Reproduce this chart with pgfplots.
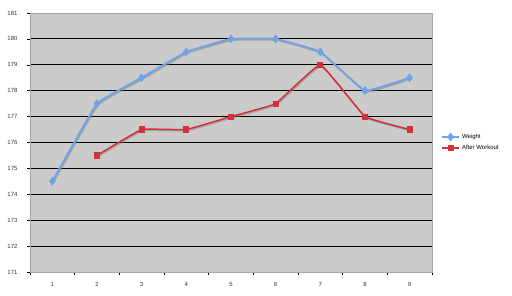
\documentclass[border=0pt]{standalone}
\usepackage{pgfplots}
\pgfplotsset{compat=1.18}
\usepackage{fontspec}
\setmainfont{Liberation Sans}
\definecolor{wblue}{HTML}{6FA3E6}
\definecolor{ared}{HTML}{D0313B}
\definecolor{bg}{HTML}{CBCBCB}
\begin{document}
\begin{tikzpicture}[x=1pt,y=1pt]
\path[use as bounding box] (0,0) rectangle (512,295);
\begin{axis}[
  at={(30pt,23pt)}, anchor=south west,
  scale only axis, width=402pt, height=259pt,
  xmin=0.5, xmax=9.5, ymin=171, ymax=181,
  xtick={1,...,9}, ytick={171,...,181},
  minor xtick={0.5,1.5,...,9.5},
  x tick style={draw=none},
  minor x tick style={draw=black, thin},
  every minor tick/.append style={major tick length=3pt},
  tick align=outside, tickpos=left,
  ytick style={draw=black, thin},
  major tick length=3pt,
  ymajorgrids, grid style={black, line width=0.8pt},
  axis background/.style={fill=bg},
  axis line style={gray!70},
  tick label style={font=\fontsize{6}{7}\selectfont, text=black!80},
  /pgf/number format/assume math mode=true,
  yticklabel style={xshift=-6pt},
  xticklabel style={yshift=-4pt},
  legend style={at={(1,0.5)}, anchor=west, xshift=6pt, draw=none, fill=none, font=\fontsize{6}{7}\selectfont, row sep=1pt},
  legend cell align=left,
  clip=false,
]
\addplot[gray, opacity=0.5, line width=1.8pt, smooth, tension=0.15, forget plot, shift={(1pt,-1.2pt)}] coordinates {(1,174.5)(2,177.5)(3,178.5)(4,179.5)(5,180)(6,180)(7,179.5)(8,178)(9,178.5)};
\addplot[gray, opacity=0.5, line width=1.5pt, smooth, tension=0.15, forget plot, shift={(1pt,-1.2pt)}] coordinates {(2,175.5)(3,176.5)(4,176.5)(5,177)(6,177.5)(7,179)(8,177)(9,176.5)};
\addplot[wblue, line width=1.8pt, smooth, tension=0.15, mark=diamond*, mark size=3pt, mark options={solid}] coordinates {(1,174.5)(2,177.5)(3,178.5)(4,179.5)(5,180)(6,180)(7,179.5)(8,178)(9,178.5)};
\addlegendentry{Weight}
\addplot[ared, line width=1.5pt, smooth, tension=0.15, mark=square*, mark size=2.3pt, mark options={solid}] coordinates {(2,175.5)(3,176.5)(4,176.5)(5,177)(6,177.5)(7,179)(8,177)(9,176.5)};
\addlegendentry{After Workout}
\end{axis}
\end{tikzpicture}
\end{document}
